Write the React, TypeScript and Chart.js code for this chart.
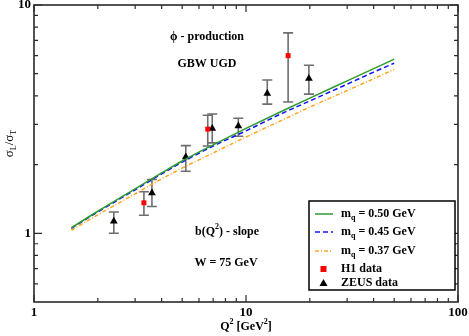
import React, { useEffect, useRef } from "react";
import { Chart, registerables } from "chart.js";

Chart.register(...registerables);

// Model curves (Q^2 grid and sigma_L/sigma_T for three quark masses)
const qGrid = [1.5, 2, 3, 4, 5, 7, 10, 15, 20, 30, 40, 50];
const mq050 = [1.057, 1.249, 1.566, 1.838, 2.073, 2.44, 2.88, 3.45, 3.91, 4.65, 5.26, 5.79];
const mq045 = [1.052, 1.24, 1.55, 1.82, 2.05, 2.41, 2.81, 3.37, 3.8, 4.5, 5.08, 5.56];
const mq037 = [1.031, 1.205, 1.489, 1.73, 1.93, 2.25, 2.64, 3.15, 3.57, 4.22, 4.75, 5.23];

// H1 data
const h1Q2 = [3.3, 6.6, 15.8];
const h1Val = [1.36, 2.86, 6.0];
const h1Lo = [1.2, 2.41, 3.76];
const h1Hi = [1.52, 3.29, 7.55];

// ZEUS data
const zeusQ2 = [2.38, 3.6, 5.2, 6.93, 9.2, 12.6, 19.8];
const zeusVal = [1.13, 1.5, 2.16, 2.88, 2.95, 4.1, 4.77];
const zeusLo = [1.0, 1.31, 1.87, 2.49, 2.66, 3.68, 4.07];
const zeusHi = [1.24, 1.72, 2.42, 3.33, 3.19, 4.69, 5.45];

// Axis ticks
const xMajor = [1, 10, 100];
const xMajorLabels = ["1", "10", "100"];
const yMajor = [1, 10];
const yMajorLabels = ["1", "10"];
const xMinor = [2, 3, 4, 5, 6, 7, 8, 9, 20, 30, 40, 50, 60, 70, 80, 90];
const yMinor = [0.6, 0.7, 0.8, 0.9, 2, 3, 4, 5, 6, 7, 8, 9];

const legendLabels = ["0.50 GeV", "0.45 GeV", "0.37 GeV", "H1 data", "ZEUS data"];

const SERIF = "'Liberation Serif', 'DejaVu Serif', serif";
const GREEN = "#2e9a2e";
const BLUE = "#1010ff";
const ORANGE = "#ffa520";

type Part = { t: string; size: number; dy?: number; bold?: boolean };

function richWidth(ctx: CanvasRenderingContext2D, parts: Part[]) {
  let w = 0;
  for (const p of parts) {
    ctx.font = `${p.bold === false ? "" : "bold "}${p.size}px ${SERIF}`;
    w += ctx.measureText(p.t).width;
  }
  return w;
}

function drawRich(
  ctx: CanvasRenderingContext2D,
  parts: Part[],
  x: number,
  y: number,
  align: "left" | "center"
) {
  const w = richWidth(ctx, parts);
  let cx = align === "center" ? x - w / 2 : x;
  ctx.textAlign = "left";
  ctx.textBaseline = "middle";
  for (const p of parts) {
    ctx.font = `${p.bold === false ? "" : "bold "}${p.size}px ${SERIF}`;
    ctx.fillText(p.t, cx, y + (p.dy || 0));
    cx += ctx.measureText(p.t).width;
  }
}

const decorPlugin = {
  id: "decor",
  beforeDatasetsDraw(chart: any) {
    const ctx: CanvasRenderingContext2D = chart.ctx;
    const xs = chart.scales.x;
    const ys = chart.scales.y;
    const drawBars = (q: number[], lo: number[], hi: number[], color: string) => {
      ctx.save();
      ctx.strokeStyle = color;
      ctx.lineWidth = 1.6;
      for (let i = 0; i < q.length; i++) {
        const px = xs.getPixelForValue(q[i]);
        const y1 = ys.getPixelForValue(lo[i]);
        const y2 = ys.getPixelForValue(hi[i]);
        ctx.beginPath();
        ctx.moveTo(px, y1);
        ctx.lineTo(px, y2);
        ctx.moveTo(px - 5, y1);
        ctx.lineTo(px + 5, y1);
        ctx.moveTo(px - 5, y2);
        ctx.lineTo(px + 5, y2);
        ctx.stroke();
      }
      ctx.restore();
    };
    drawBars(zeusQ2, zeusLo, zeusHi, "#6e6e6e");
    drawBars(h1Q2, h1Lo, h1Hi, "#6e6e6e");
  },
  afterDraw(chart: any) {
    const ctx: CanvasRenderingContext2D = chart.ctx;
    const a = chart.chartArea;
    const xs = chart.scales.x;
    const ys = chart.scales.y;
    ctx.save();
    // frame
    ctx.strokeStyle = "#2a2a2a";
    ctx.lineWidth = 1.6;
    ctx.strokeRect(a.left, a.top, a.right - a.left, a.bottom - a.top);
    // ticks
    ctx.lineWidth = 1.2;
    ctx.beginPath();
    const xt = (v: number, len: number) => {
      const px = xs.getPixelForValue(v);
      ctx.moveTo(px, a.bottom);
      ctx.lineTo(px, a.bottom - len);
      ctx.moveTo(px, a.top);
      ctx.lineTo(px, a.top + len);
    };
    const yt = (v: number, len: number) => {
      const py = ys.getPixelForValue(v);
      ctx.moveTo(a.left, py);
      ctx.lineTo(a.left + len, py);
      ctx.moveTo(a.right, py);
      ctx.lineTo(a.right - len, py);
    };
    xMajor.forEach((v) => xt(v, 7));
    xMinor.forEach((v) => xt(v, 4));
    yMajor.forEach((v) => yt(v, 8));
    yMinor.forEach((v) => yt(v, 4));
    ctx.stroke();

    // tick labels
    ctx.fillStyle = "#000";
    ctx.font = `bold 13px ${SERIF}`;
    ctx.textAlign = "center";
    ctx.textBaseline = "top";
    xMajor.forEach((v, i) => ctx.fillText(xMajorLabels[i], xs.getPixelForValue(v), a.bottom + 4));
    ctx.textAlign = "right";
    ctx.textBaseline = "middle";
    yMajor.forEach((v, i) => ctx.fillText(yMajorLabels[i], a.left - 3, ys.getPixelForValue(v)));

    // axis titles
    drawRich(
      ctx,
      [
        { t: "Q", size: 12 },
        { t: "2", size: 8, dy: -5 },
        { t: " [GeV", size: 12 },
        { t: "2", size: 8, dy: -5 },
        { t: "]", size: 12 },
      ],
      (a.left + a.right) / 2,
      a.bottom + 25,
      "center"
    );
    ctx.save();
    ctx.translate(10, (a.top + a.bottom) / 2 - 10);
    ctx.rotate(-Math.PI / 2);
    drawRich(
      ctx,
      [
        { t: "σ", size: 13, bold: false },
        { t: "L", size: 8, dy: 4, bold: false },
        { t: "/σ", size: 13, bold: false },
        { t: "T", size: 8, dy: 4, bold: false },
      ],
      0,
      0,
      "center"
    );
    ctx.restore();

    // annotations
    drawRich(ctx, [{ t: "ϕ - production", size: 12 }], 207, 37, "center");
    drawRich(ctx, [{ t: "GBW UGD", size: 12 }], 207, 64, "center");
    drawRich(
      ctx,
      [
        { t: "b(Q", size: 12 },
        { t: "2", size: 8, dy: -5 },
        { t: ") - slope", size: 12 },
      ],
      227,
      232,
      "center"
    );
    drawRich(ctx, [{ t: "W = 75 GeV", size: 12 }], 226, 263, "center");

    // legend
    const lx = 309, ly = 201, lw = 146, lh = 89;
    ctx.fillStyle = "#fff";
    ctx.fillRect(lx, ly, lw, lh);
    ctx.strokeStyle = "#000";
    ctx.lineWidth = 1.5;
    ctx.strokeRect(lx, ly, lw, lh);
    const rows = [214, 232, 251, 269, 283];
    const lineStyles = [
      { c: GREEN, d: [] as number[] },
      { c: BLUE, d: [5, 3] },
      { c: ORANGE, d: [4, 2, 1, 2] },
    ];
    lineStyles.forEach((s, i) => {
      ctx.save();
      ctx.strokeStyle = s.c;
      ctx.lineWidth = 1.5;
      ctx.setLineDash(s.d);
      ctx.beginPath();
      ctx.moveTo(315, rows[i]);
      ctx.lineTo(333, rows[i]);
      ctx.stroke();
      ctx.restore();
      ctx.fillStyle = "#000";
      drawRich(
        ctx,
        [
          { t: "m", size: 12 },
          { t: "q", size: 8, dy: 4 },
          { t: " = " + legendLabels[i], size: 12 },
        ],
        341,
        rows[i],
        "left"
      );
    });
    ctx.fillStyle = "#ff0000";
    ctx.fillRect(320.5, rows[3] - 3, 6, 6);
    ctx.fillStyle = "#000";
    ctx.beginPath();
    ctx.moveTo(323.5, rows[4] - 4);
    ctx.lineTo(327.5, rows[4] + 3);
    ctx.lineTo(319.5, rows[4] + 3);
    ctx.closePath();
    ctx.fill();
    drawRich(ctx, [{ t: legendLabels[3], size: 12 }], 341, rows[3], "left");
    drawRich(ctx, [{ t: legendLabels[4], size: 12 }], 341, rows[4], "left");
    ctx.restore();
  },
};

export default function App() {
  const ref = useRef<HTMLCanvasElement | null>(null);
  useEffect(() => {
    if (!ref.current) return;
    const mk = (vals: number[]) => qGrid.map((q, i) => ({ x: q, y: vals[i] }));
    const chart = new Chart(ref.current, {
      type: "line",
      data: {
        datasets: [
          {
            label: "mq = 0.50 GeV",
            data: mk(mq050),
            borderColor: GREEN,
            borderWidth: 1.5,
            pointRadius: 0,
            cubicInterpolationMode: "monotone",
            fill: false,
          },
          {
            label: "mq = 0.45 GeV",
            data: mk(mq045),
            borderColor: BLUE,
            borderWidth: 1.5,
            borderDash: [5, 3],
            pointRadius: 0,
            cubicInterpolationMode: "monotone",
            fill: false,
          },
          {
            label: "mq = 0.37 GeV",
            data: mk(mq037),
            borderColor: ORANGE,
            borderWidth: 1.5,
            borderDash: [4, 2, 1, 2],
            pointRadius: 0,
            cubicInterpolationMode: "monotone",
            fill: false,
          },
          {
            label: "H1 data",
            data: h1Q2.map((q, i) => ({ x: q, y: h1Val[i] })),
            showLine: false,
            pointStyle: "rect",
            pointRadius: 3.5,
            backgroundColor: "#ff0000",
            borderColor: "#ff0000",
            borderWidth: 0,
          },
          {
            label: "ZEUS data",
            data: zeusQ2.map((q, i) => ({ x: q, y: zeusVal[i] })),
            showLine: false,
            pointStyle: "triangle",
            pointRadius: 4.5,
            backgroundColor: "#000",
            borderColor: "#000",
            borderWidth: 0,
          },
        ] as any,
      },
      options: {
        animation: false,
        responsive: false,
        devicePixelRatio: 1,
        layout: { padding: { left: 34, right: 11, top: 5, bottom: 34 } },
        plugins: { legend: { display: false }, tooltip: { enabled: false } },
        scales: {
          x: { type: "logarithmic", min: 1, max: 100, display: false },
          y: { type: "logarithmic", min: 0.5, max: 10, display: false },
        },
      } as any,
      plugins: [decorPlugin],
    });
    return () => chart.destroy();
  }, []);
  return (
    <div style={{ position: "absolute", left: 0, top: 0, width: 469, height: 336, background: "#fff" }}>
      <canvas ref={ref} width={469} height={336} style={{ width: 469, height: 336 }} />
    </div>
  );
}
